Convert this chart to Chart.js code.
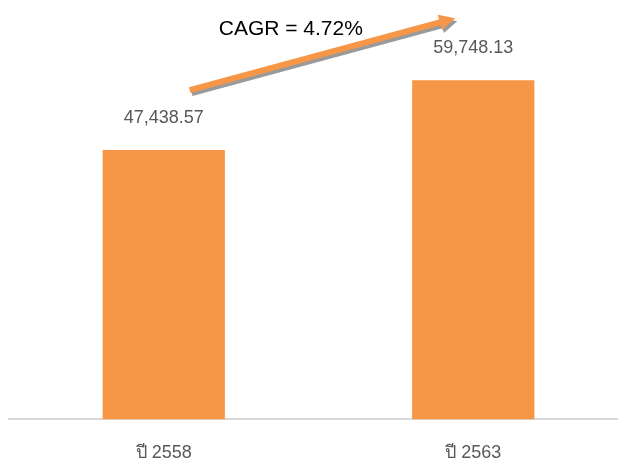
<!DOCTYPE html>
<html>
<head>
<meta charset="utf-8">
<script src="https://cdn.jsdelivr.net/npm/chart.js@4/dist/chart.umd.min.js"></script>
<style>
  html, body { margin: 0; padding: 0; background: #fff; overflow: hidden; }
  #wrap { width: 628px; height: 461px; }
</style>
</head>
<body>
<div id="wrap"><canvas id="cagrChart"></canvas></div>
<script>
// data
const labels = ['ปี 2558', 'ปี 2563'];
const values = [47438.57, 59748.13];
const cagrText = 'CAGR = 4.72%';

const orange = '#F79646';
const grey = '#595959';

// label angka di atas bar
const valueLabels = {
    id: 'valueLabels',
    afterDatasetsDraw(chart) {
        const ctx = chart.ctx;
        const meta = chart.getDatasetMeta(0);
        ctx.save();
        ctx.font = '18px "Liberation Sans", Arial, sans-serif';
        ctx.fillStyle = grey;
        ctx.textAlign = 'center';
        ctx.textBaseline = 'middle';
        meta.data.forEach((bar, i) => {
            const txt = values[i].toLocaleString('en-US', { minimumFractionDigits: 2, maximumFractionDigits: 2 });
            ctx.fillText(txt, bar.x, bar.y - 32);
        });
        ctx.restore();
    }
};

// panah CAGR
const cagrArrow = {
    id: 'cagrArrow',
    afterDatasetsDraw(chart) {
        const ctx = chart.ctx;
        const meta = chart.getDatasetMeta(0);
        const a = meta.data[0], b = meta.data[1];
        const x1 = a.x + 26, y1 = a.y - 60;
        const x2 = b.x - 18, y2 = b.y - 62;

        function arrow(dx, dy, color) {
            const ang = Math.atan2(y2 - y1, x2 - x1);
            const head = 16, half = 8, shaft = 3;
            const len = Math.hypot(x2 - x1, y2 - y1);
            ctx.save();
            ctx.translate(x1 + dx, y1 + dy);
            ctx.rotate(ang);
            ctx.beginPath();
            ctx.moveTo(0, -shaft);
            ctx.lineTo(len - head, -shaft);
            ctx.lineTo(len - head, -half);
            ctx.lineTo(len, 0);
            ctx.lineTo(len - head, half);
            ctx.lineTo(len - head, shaft);
            ctx.lineTo(0, shaft);
            ctx.closePath();
            ctx.fillStyle = color;
            ctx.fill();
            ctx.restore();
        }
        arrow(2, 3, '#9a9a9a');
        arrow(0, 0, orange);

        ctx.save();
        ctx.font = '21px "Liberation Sans", Arial, sans-serif';
        ctx.fillStyle = '#000';
        ctx.textAlign = 'left';
        ctx.textBaseline = 'middle';
        ctx.fillText(cagrText, x1 + 29, y1 - 61);
        ctx.restore();
    }
};

const ctx = document.getElementById('cagrChart').getContext('2d');
const chart = new Chart(ctx, {
    type: 'bar',
    data: {
        labels: labels,
        datasets: [{
            data: values,
            backgroundColor: orange,
            barPercentage: 0.395,
            categoryPercentage: 1
        }]
    },
    options: {
        responsive: true,
        maintainAspectRatio: false,
        animation: false,
        layout: { padding: { left: 9, right: 0, top: 22, bottom: -18 } },
        plugins: {
            legend: { display: false },
            tooltip: { enabled: false }
        },
        scales: {
            x: {
                grid: { display: false },
                border: { display: true, color: '#D9D9D9', width: 2 },
                ticks: {
                    color: grey,
                    padding: 15,
                    font: { size: 18, family: '"Liberation Sans", Arial, sans-serif' }
                }
            },
            y: {
                display: false,
                min: 0,
                max: 70000
            }
        }
    },
    plugins: [valueLabels, cagrArrow]
});
</script>
</body>
</html>
